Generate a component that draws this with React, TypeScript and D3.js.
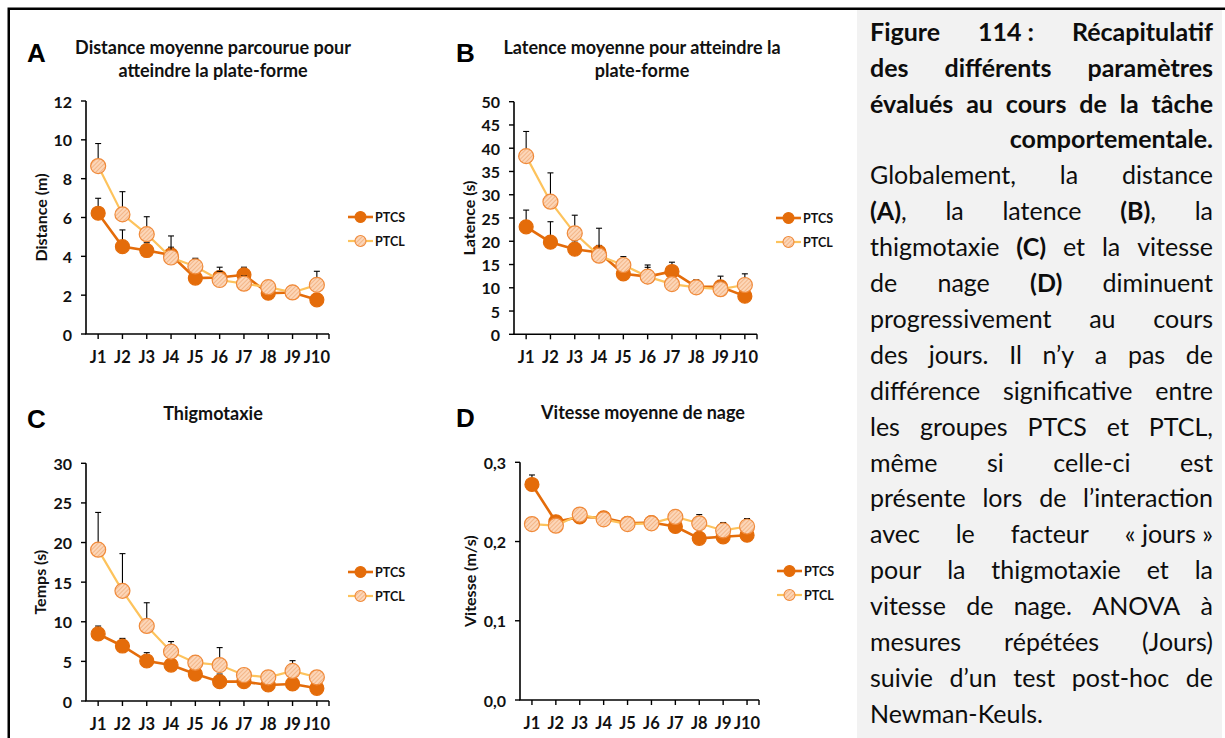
import React, { useLayoutEffect, useMemo, useRef, useState } from 'react';
import * as d3 from 'd3';

// ---------- DATA ----------
const days = ['J1', 'J2', 'J3', 'J4', 'J5', 'J6', 'J7', 'J8', 'J9', 'J10'];
const groupNames = ['PTCS', 'PTCL'];

// A – Distance (m)
const distancePTCS = [6.22, 4.5, 4.3, 4.07, 2.88, 2.91, 3.05, 2.1, 2.14, 1.76];
const distancePTCSErr = [0.77, 0.86, 0.4, 0.4, 0.45, 0.53, 0.39, 0.45, 0.34, 0.3];
const distancePTCL = [8.65, 6.16, 5.14, 3.94, 3.48, 2.78, 2.59, 2.41, 2.14, 2.53];
const distancePTCLErr = [1.16, 1.17, 0.9, 1.11, 0.42, 0.45, 0.4, 0.3, 0.3, 0.7];
const distanceTicks = [0, 2, 4, 6, 8, 10, 12];

// B – Latence (s)
const latencePTCS = [23.1, 19.8, 18.3, 17.6, 13.0, 12.4, 13.5, 10.2, 10.2, 8.2];
const latencePTCSErr = [3.6, 4.4, 1.8, 1.5, 1.2, 2.5, 2.0, 1.5, 2.3, 1.0];
const latencePTCL = [38.3, 28.5, 21.7, 16.9, 14.9, 12.4, 10.8, 10.1, 9.7, 10.6];
const latencePTCLErr = [5.3, 6.2, 3.9, 5.9, 1.8, 2.0, 1.0, 1.0, 1.5, 2.4];
const latenceTicks = [0, 5, 10, 15, 20, 25, 30, 35, 40, 45, 50];

// C – Thigmotaxie, temps (s)
const thigmoPTCS = [8.46, 6.94, 5.05, 4.54, 3.4, 2.44, 2.44, 2.02, 2.15, 1.6];
const thigmoPTCSErr = [1.0, 0.96, 1.05, 0.8, 0.6, 0.96, 0.5, 0.4, 0.5, 0.4];
const thigmoPTCL = [19.1, 13.9, 9.47, 6.23, 4.84, 4.54, 3.28, 2.99, 3.79, 2.99];
const thigmoPTCLErr = [4.7, 4.7, 2.93, 1.27, 0.86, 2.2, 0.4, 0.4, 1.3, 0.71];
const thigmoTicks = [0, 5, 10, 15, 20, 25, 30];

// D – Vitesse (m/s)
const vitessePTCS = [0.272, 0.225, 0.231, 0.23, 0.223, 0.224, 0.219, 0.204, 0.206, 0.208];
const vitessePTCSErr = [0.012, 0.004, 0.005, 0.006, 0.004, 0.005, 0.004, 0.007, 0.006, 0.005];
const vitessePTCL = [0.222, 0.22, 0.234, 0.228, 0.222, 0.223, 0.231, 0.223, 0.214, 0.219];
const vitessePTCLErr = [0.003, 0.003, 0.008, 0.006, 0.004, 0.008, 0.004, 0.011, 0.01, 0.01];
const vitesseTicks = [0, 0.1, 0.2, 0.3];
const vitesseTickLabels = ['0,0', '0,1', '0,2', '0,3'];

const captionLines = [
  '**Figure 114\u00a0: Récapitulatif**',
  '**des différents paramètres**',
  '**évalués au cours de la tâche**',
  '**comportementale.**',
  'Globalement, la distance',
  '**(A)**, la latence **(B)**, la',
  'thigmotaxie **(C)** et la vitesse',
  'de nage **(D)** diminuent',
  'progressivement au cours',
  'des jours. Il n’y a pas de',
  'différence significative entre',
  'les groupes PTCS et PTCL,',
  'même si celle-ci est',
  'présente lors de l’interaction',
  'avec le facteur «\u00a0jours\u00a0»',
  'pour la thigmotaxie et la',
  'vitesse de nage. ANOVA à',
  'mesures répétées (Jours)',
  'suivie d’un test post-hoc de',
  'Newman-Keuls.',
];
const captionAlign = ['j', 'j', 'j', 'r', 'j', 'j', 'j', 'j', 'j', 'j', 'j', 'j', 'j', 'j', 'j', 'j', 'j', 'j', 'j', 'l'];

// ---------- STYLE ----------
const FONT = 'Lato, "Open Sans", sans-serif';
const PTCS_COLOR = '#E46C0A';
const PTCL_LINE = '#FDC35C';
const PTCL_STROKE = '#F08A3A';

type PanelCfg = {
  letter: string;
  letterX: number;
  letterY: number;
  title: string[];
  titleX: number;
  titleY: number;
  yLabel: string;
  yLabelX: number;
  x0: number;
  x1: number;
  yTop: number;
  yBottom: number;
  domain: [number, number];
  ticks: number[];
  tickLabels?: string[];
  s1: number[];
  e1: number[];
  s2: number[];
  e2: number[];
  legX: number;
  legY: number;
};

const panels: PanelCfg[] = [
  {
    letter: 'A', letterX: 27, letterY: 62,
    title: ['Distance moyenne parcourue pour', 'atteindre la plate-forme'], titleX: 213, titleY: 54,
    yLabel: 'Distance (m)', yLabelX: 40,
    x0: 86, x1: 329, yTop: 101, yBottom: 334,
    domain: [0, 12], ticks: distanceTicks,
    s1: distancePTCS, e1: distancePTCSErr, s2: distancePTCL, e2: distancePTCLErr,
    legX: 348, legY: 217,
  },
  {
    letter: 'B', letterX: 456, letterY: 62,
    title: ['Latence moyenne pour atteindre la', 'plate-forme'], titleX: 642, titleY: 54,
    yLabel: 'Latence (s)', yLabelX: 468,
    x0: 514, x1: 757, yTop: 101.7, yBottom: 334.3,
    domain: [0, 50], ticks: latenceTicks,
    s1: latencePTCS, e1: latencePTCSErr, s2: latencePTCL, e2: latencePTCLErr,
    legX: 776, legY: 218,
  },
  {
    letter: 'C', letterX: 27, letterY: 428,
    title: ['Thigmotaxie'], titleX: 213, titleY: 420,
    yLabel: 'Temps (s)', yLabelX: 39,
    x0: 86, x1: 329, yTop: 463.3, yBottom: 701,
    domain: [0, 30], ticks: thigmoTicks,
    s1: thigmoPTCS, e1: thigmoPTCSErr, s2: thigmoPTCL, e2: thigmoPTCLErr,
    legX: 348, legY: 572,
  },
  {
    letter: 'D', letterX: 456, letterY: 427,
    title: ['Vitesse moyenne de nage'], titleX: 643, titleY: 419,
    yLabel: 'Vitesse (m/s)', yLabelX: 469,
    x0: 520, x1: 759, yTop: 462.3, yBottom: 700,
    domain: [0, 0.3], ticks: vitesseTicks, tickLabels: vitesseTickLabels,
    s1: vitessePTCS, e1: vitessePTCSErr, s2: vitessePTCL, e2: vitessePTCLErr,
    legX: 777, legY: 571,
  },
];

function Series({ vals, errs, x, y, kind }: any) {
  const line = d3
    .line<number>()
    .x((_, i) => x(days[i]))
    .y((d) => y(d));
  const isS = kind === 'S';
  return (
    <g>
      <path d={line(vals) || ''} fill="none" stroke={isS ? PTCS_COLOR : PTCL_LINE} strokeWidth={isS ? 2.6 : 2.2} />
      {vals.map((v: number, i: number) => {
        const cx = x(days[i]);
        const yt = y(v + errs[i]);
        return (
          <g key={'e' + i} stroke="#000" strokeWidth={1.1}>
            <line x1={cx} x2={cx} y1={y(v)} y2={yt} />
            <line x1={cx - 3} x2={cx + 3} y1={yt} y2={yt} />
          </g>
        );
      })}
      {vals.map((v: number, i: number) => (
        <circle
          key={'m' + i}
          cx={x(days[i])}
          cy={y(v)}
          r={isS ? 7 : 7.5}
          fill={isS ? PTCS_COLOR : 'url(#hatch)'}
          stroke={isS ? PTCS_COLOR : PTCL_STROKE}
          strokeWidth={1.2}
        />
      ))}
    </g>
  );
}

function Panel({ cfg }: { cfg: PanelCfg }) {
  const x = d3.scalePoint<string>().domain(days).range([cfg.x0, cfg.x1]).padding(0.5);
  const y = d3.scaleLinear().domain(cfg.domain).range([cfg.yBottom, cfg.yTop]);
  const xf = (d: string) => x(d) as number;
  const midY = (cfg.yTop + cfg.yBottom) / 2;
  return (
    <g>
      <text x={cfg.letterX} y={cfg.letterY} fontFamily='"Liberation Sans", Arial, sans-serif' fontWeight={700} fontSize={26} fill="#000">
        {cfg.letter}
      </text>
      {cfg.title.map((t, i) => (
        <text key={i} x={cfg.titleX} y={cfg.titleY + i * 23} textAnchor="middle" fontFamily={FONT} fontWeight={700} fontSize={18} fill="#111">
          {t}
        </text>
      ))}
      <text
        transform={`translate(${cfg.yLabelX},${midY}) rotate(-90)`}
        textAnchor="middle"
        dominantBaseline="central"
        fontFamily={FONT}
        fontWeight={700}
        fontSize={16}
        fill="#111"
      >
        {cfg.yLabel}
      </text>
      {/* y axis */}
      <line x1={cfg.x0} x2={cfg.x0} y1={cfg.yTop} y2={cfg.yBottom} stroke="#000" strokeWidth={1.6} />
      {cfg.ticks.map((t, i) => (
        <g key={i}>
          <line x1={cfg.x0 - 5} x2={cfg.x0} y1={y(t)} y2={y(t)} stroke="#000" strokeWidth={1.4} />
          <text x={cfg.x0 - 14} y={y(t)} textAnchor="end" dominantBaseline="central" fontFamily={FONT} fontWeight={700} fontSize={16} fill="#111">
            {cfg.tickLabels ? cfg.tickLabels[i] : String(t)}
          </text>
        </g>
      ))}
      {/* x axis */}
      <line x1={cfg.x0 - 0.8} x2={cfg.x1} y1={cfg.yBottom} y2={cfg.yBottom} stroke="#000" strokeWidth={1.6} />
      <line x1={cfg.x1} x2={cfg.x1} y1={cfg.yBottom} y2={cfg.yBottom + 5} stroke="#000" strokeWidth={1.4} />
      {days.map((d) => (
        <g key={d}>
          <line x1={xf(d)} x2={xf(d)} y1={cfg.yBottom} y2={cfg.yBottom + 5} stroke="#000" strokeWidth={1.4} />
          <text x={xf(d)} y={cfg.yBottom + 29} textAnchor="middle" fontFamily={FONT} fontWeight={700} fontSize={16.5} fill="#111">
            {d}
          </text>
        </g>
      ))}
      <Series vals={cfg.s1} errs={cfg.e1} x={xf} y={y} kind="S" />
      <Series vals={cfg.s2} errs={cfg.e2} x={xf} y={y} kind="L" />
      {/* legend */}
      {groupNames.map((g, i) => {
        const ly = cfg.legY + i * 24;
        const isS = i === 0;
        return (
          <g key={g}>
            <line x1={cfg.legX} x2={cfg.legX + 25} y1={ly} y2={ly} stroke={isS ? PTCS_COLOR : PTCL_LINE} strokeWidth={isS ? 2.6 : 2.2} />
            <circle cx={cfg.legX + 12.5} cy={ly} r={5.5} fill={isS ? PTCS_COLOR : 'url(#hatch)'} stroke={isS ? PTCS_COLOR : PTCL_STROKE} strokeWidth={1.1} />
            <text x={cfg.legX + 27} y={ly} dominantBaseline="central" fontFamily={FONT} fontWeight={700} fontSize={12.5} fill="#111">
              {g}
            </text>
          </g>
        );
      })}
    </g>
  );
}

type Seg = { t: string; b: boolean };
function parseLine(s: string): Seg[][] {
  const words: Seg[][] = [];
  let cur: Seg[] = [];
  let buf = '';
  let bold = false;
  const flush = () => {
    if (buf) cur.push({ t: buf, b: bold });
    buf = '';
  };
  for (let i = 0; i < s.length; i++) {
    if (s.startsWith('**', i)) {
      flush();
      bold = !bold;
      i++;
      continue;
    }
    const ch = s[i];
    if (ch === ' ') {
      flush();
      if (cur.length) words.push(cur);
      cur = [];
    } else buf += ch;
  }
  flush();
  if (cur.length) words.push(cur);
  return words;
}

const CAP_LEFT = 870;
const CAP_RIGHT = 1213;
const CAP_BASE_FS = 25;

function Caption() {
  const parsed = useMemo(() => captionLines.map(parseLine), []);
  const refs = useRef<(SVGTextElement | null)[][]>(parsed.map((ws) => ws.map(() => null)));
  const [layout, setLayout] = useState<{ fs: number; xs: number[][] } | null>(null);
  const W = CAP_RIGHT - CAP_LEFT;

  useLayoutEffect(() => {
    const widths = parsed.map((ws, li) => ws.map((_, wi) => refs.current[li][wi]?.getComputedTextLength() ?? 0));
    let worst = 0;
    parsed.forEach((ws, li) => {
      if (captionAlign[li] !== 'j') return;
      const tot = d3.sum(widths[li]) + (ws.length - 1) * 0.22 * CAP_BASE_FS;
      worst = Math.max(worst, tot / W);
    });
    const k = worst > 1 ? 1 / worst : 1;
    const fs = CAP_BASE_FS * k;
    const xs = parsed.map((ws, li) => {
      const w = widths[li].map((v) => v * k);
      const sum = d3.sum(w);
      const align = captionAlign[li];
      let gap = fs * 0.25;
      let start = CAP_LEFT;
      if (align === 'j' && ws.length > 1) gap = (W - sum) / (ws.length - 1);
      if (align === 'r') start = CAP_RIGHT - (sum + gap * (ws.length - 1));
      const out: number[] = [];
      let cx = start;
      w.forEach((ww) => {
        out.push(cx);
        cx += ww + gap;
      });
      return out;
    });
    setLayout({ fs, xs });
  }, [parsed]);

  const y0 = 40.7;
  const lh = 35.9;
  return (
    <g>
      {parsed.map((ws, li) =>
        ws.map((w, wi) => (
          <text
            key={li + '-' + wi}
            ref={(el) => {
              refs.current[li][wi] = el;
            }}
            x={layout ? layout.xs[li][wi] : CAP_LEFT}
            y={y0 + li * lh}
            fontFamily="Lato"
            fontSize={layout ? layout.fs : CAP_BASE_FS}
            fill="#0d0d0d"
            opacity={layout ? 1 : 0}
          >
            {w.map((sg, si) => (
              <tspan key={si} fontWeight={sg.b ? 700 : 400}>
                {sg.t}
              </tspan>
            ))}
          </text>
        ))
      )}
    </g>
  );
}

export default function App() {
  return (
    <svg width={1225} height={738} style={{ position: 'absolute', left: 0, top: 0 }}>
      <defs>
        <pattern id="hatch" width="3" height="3" patternUnits="userSpaceOnUse" patternTransform="rotate(45)">
          <rect width="3" height="3" fill="#FCD6B8" />
          <line x1="0" y1="0" x2="0" y2="3" stroke="#EFA56E" strokeWidth="1.3" />
        </pattern>
      </defs>
      <rect x={0} y={0} width={1225} height={738} fill="#fff" />
      <rect x={857} y={10} width={365} height={728} fill="#F2F2F2" />
      <path d="M8.75 738 V8.75 H1225" fill="none" stroke="#000" strokeWidth={2.5} />
      {panels.map((p) => (
        <Panel key={p.letter} cfg={p} />
      ))}
      <Caption />
    </svg>
  );
}
